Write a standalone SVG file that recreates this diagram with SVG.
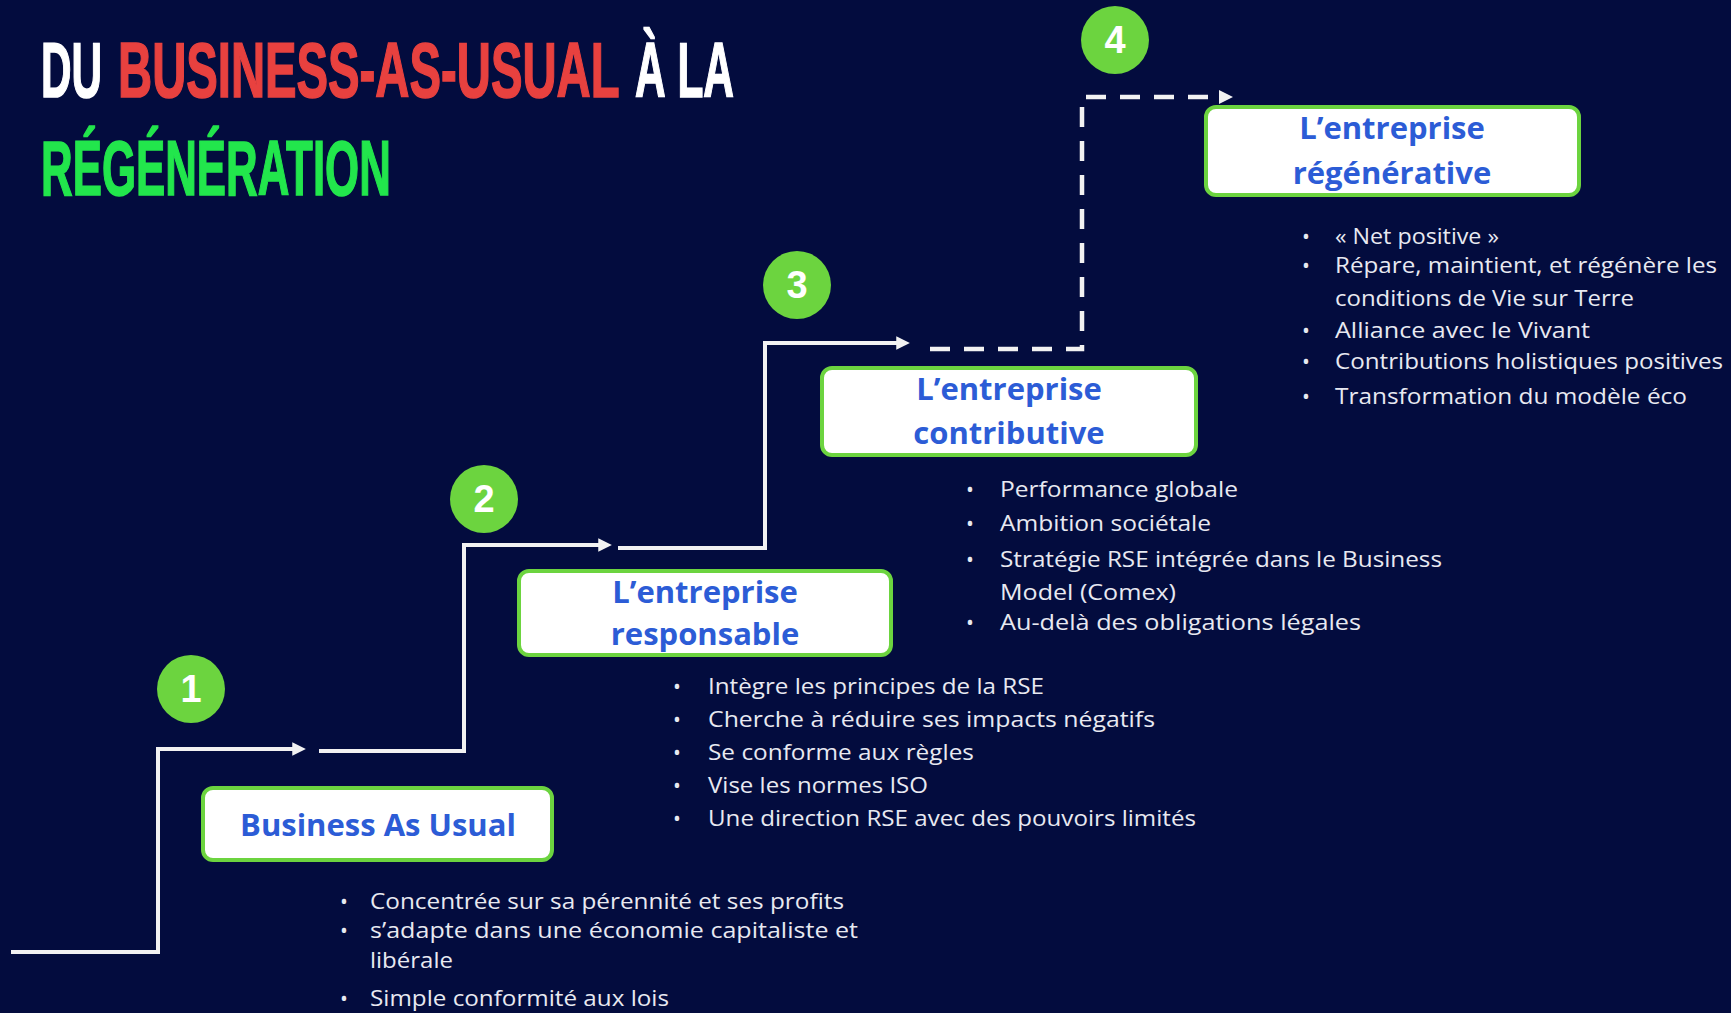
<svg xmlns="http://www.w3.org/2000/svg" width="1731" height="1013" viewBox="0 0 1731 1013">
<defs>
<style>
.title{font-family:"Liberation Sans",Arial,sans-serif;font-weight:bold;font-size:78px;stroke-width:1.6}
.box{fill:#ffffff;stroke:#6cd43f;stroke-width:4}
.btxt{font-family:"Open Sans","Noto Sans",sans-serif;font-weight:bold;font-size:31px;fill:#2c5cd6;text-anchor:middle}
.list text{font-family:"Open Sans","Noto Sans",sans-serif;font-size:21px;fill:#e8e9f1}
.num{fill:#6cd43f}
.ntxt{font-family:"Liberation Sans",Arial,sans-serif;font-weight:bold;font-size:38px;fill:#ffffff;text-anchor:middle}
.step{fill:none;stroke:#f2f2f2;stroke-width:4}
.dash{fill:none;stroke:#f2f2f2;stroke-width:4.5;stroke-dasharray:20 14}
</style>
<marker id="ah" viewBox="0 0 10 10" refX="2" refY="5" markerWidth="3.4" markerHeight="3.4" orient="auto" markerUnits="strokeWidth">
<path d="M0,0 L10,5 L0,10 z" fill="#f2f2f2"/>
</marker>
</defs>
<rect width="1731" height="1013" fill="#030c3e"/>

<g id="title">
<g transform="translate(41,97) scale(0.542,1)"><text class="title" x="0" y="0" fill="#ffffff" stroke="#ffffff">DU</text></g>
<g transform="translate(118,97) scale(0.606,1)"><text class="title" x="0" y="0" fill="#e8413f" stroke="#e8413f">BUSINESS-AS-USUAL</text></g>
<g transform="translate(635,97) scale(0.544,1)"><text class="title" x="0" y="0" fill="#ffffff" stroke="#ffffff">À LA</text></g>
<g transform="translate(41,195) scale(0.562,1)"><text class="title" x="0" y="0" fill="#22e64c" stroke="#22e64c">RÉGÉNÉRATION</text></g>
</g>

<g id="connectors">
<path class="step" d="M11,952 H158 V749 H295" marker-end="url(#ah)"/>
<path class="step" d="M319,751 H464 V545 H601" marker-end="url(#ah)"/>
<path class="step" d="M618,548 H765 V343 H899" marker-end="url(#ah)"/>
<path class="dash" d="M930,349 H1082 V97 H1220"/>
<path d="M1219,90 L1233,97 L1219,104 z" fill="#f2f2f2"/>
</g>

<g id="step1">
<circle class="num" cx="191" cy="689" r="34"/>
<text class="ntxt" x="191" y="702">1</text>
</g>
<g id="step2">
<circle class="num" cx="484" cy="499" r="34"/>
<text class="ntxt" x="484" y="512">2</text>
</g>
<g id="step3">
<circle class="num" cx="797" cy="285" r="34"/>
<text class="ntxt" x="797" y="298">3</text>
</g>
<g id="step4">
<circle class="num" cx="1115" cy="40" r="34"/>
<text class="ntxt" x="1115" y="53">4</text>
</g>

<g id="node-bau">
<rect class="box" x="203" y="788" width="349" height="72" rx="10"/>
<text class="btxt" x="378" y="836">Business As Usual</text>
</g>
<g id="node-responsable">
<rect class="box" x="519" y="571" width="372" height="84" rx="10"/>
<text class="btxt" x="705" y="603">L’entreprise</text>
<text class="btxt" x="705" y="645">responsable</text>
</g>
<g id="node-contributive">
<rect class="box" x="822" y="368" width="374" height="87" rx="10"/>
<text class="btxt" x="1009" y="400">L’entreprise</text>
<text class="btxt" x="1009" y="444">contributive</text>
</g>
<g id="node-regenerative">
<rect class="box" x="1206" y="107" width="373" height="88" rx="10"/>
<text class="btxt" x="1392" y="139">L’entreprise</text>
<text class="btxt" x="1392" y="184">régénérative</text>
</g>

<g id="list-bau" class="list">
<text x="340" y="909">•</text><text x="370" y="909" textLength="474" lengthAdjust="spacingAndGlyphs">Concentrée sur sa pérennité et ses profits</text>
<text x="340" y="938">•</text><text x="370" y="938" textLength="488" lengthAdjust="spacingAndGlyphs">s’adapte dans une économie capitaliste et</text>
<text x="370" y="968" textLength="83" lengthAdjust="spacingAndGlyphs">libérale</text>
<text x="340" y="1006">•</text><text x="370" y="1006" textLength="299" lengthAdjust="spacingAndGlyphs">Simple conformité aux lois</text>
</g>
<g id="list-responsable" class="list">
<text x="673" y="694">•</text><text x="708" y="694" textLength="336" lengthAdjust="spacingAndGlyphs">Intègre les principes de la RSE</text>
<text x="673" y="727">•</text><text x="708" y="727" textLength="447" lengthAdjust="spacingAndGlyphs">Cherche à réduire ses impacts négatifs</text>
<text x="673" y="760">•</text><text x="708" y="760" textLength="266" lengthAdjust="spacingAndGlyphs">Se conforme aux règles</text>
<text x="673" y="793">•</text><text x="708" y="793" textLength="220" lengthAdjust="spacingAndGlyphs">Vise les normes ISO</text>
<text x="673" y="826">•</text><text x="708" y="826" textLength="488" lengthAdjust="spacingAndGlyphs">Une direction RSE avec des pouvoirs limités</text>
</g>
<g id="list-contributive" class="list">
<text x="966" y="497">•</text><text x="1000" y="497" textLength="238" lengthAdjust="spacingAndGlyphs">Performance globale</text>
<text x="966" y="531">•</text><text x="1000" y="531" textLength="211" lengthAdjust="spacingAndGlyphs">Ambition sociétale</text>
<text x="966" y="567">•</text><text x="1000" y="567" textLength="442" lengthAdjust="spacingAndGlyphs">Stratégie RSE intégrée dans le Business</text>
<text x="1000" y="600" textLength="176" lengthAdjust="spacingAndGlyphs">Model (Comex)</text>
<text x="966" y="630">•</text><text x="1000" y="630" textLength="361" lengthAdjust="spacingAndGlyphs">Au-delà des obligations légales</text>
</g>
<g id="list-regenerative" class="list">
<text x="1302" y="244">•</text><text x="1335" y="244" textLength="164" lengthAdjust="spacingAndGlyphs">« Net positive »</text>
<text x="1302" y="273">•</text><text x="1335" y="273" textLength="382" lengthAdjust="spacingAndGlyphs">Répare, maintient, et régénère les</text>
<text x="1335" y="306" textLength="299" lengthAdjust="spacingAndGlyphs">conditions de Vie sur Terre</text>
<text x="1302" y="338">•</text><text x="1335" y="338" textLength="255" lengthAdjust="spacingAndGlyphs">Alliance avec le Vivant</text>
<text x="1302" y="369">•</text><text x="1335" y="369" textLength="388" lengthAdjust="spacingAndGlyphs">Contributions holistiques positives</text>
<text x="1302" y="404">•</text><text x="1335" y="404" textLength="352" lengthAdjust="spacingAndGlyphs">Transformation du modèle éco</text>
</g>
</svg>
